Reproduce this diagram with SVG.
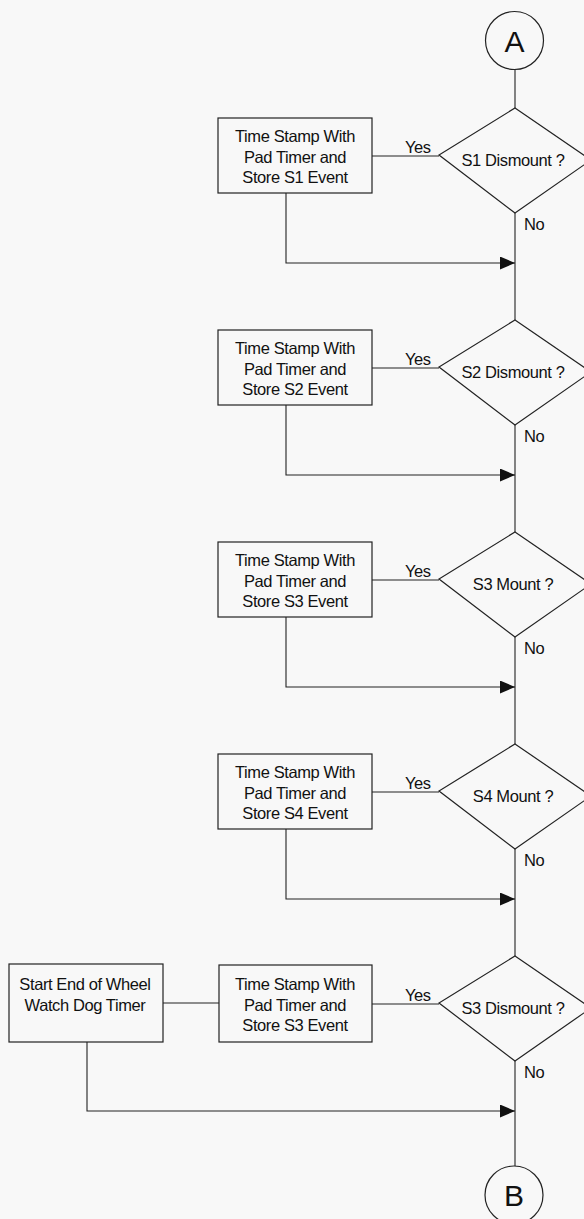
<svg xmlns="http://www.w3.org/2000/svg" width="584" height="1219" viewBox="0 0 584 1219">
<defs>
<style>
.bg{fill:#f8f8f8}
.shape{fill:none;stroke:#222;stroke-width:1.2}
.ln{fill:none;stroke:#222;stroke-width:1.1}
.t{font-family:"Liberation Sans",Arial,sans-serif;font-size:16.5px;fill:#111;letter-spacing:-0.4px}
.c{text-anchor:middle}
.big{font-family:"Liberation Sans",Arial,sans-serif;font-size:30px;fill:#111;text-anchor:middle}
</style>
<marker id="ah" markerWidth="15" markerHeight="13" refX="15" refY="6.5" orient="auto" markerUnits="userSpaceOnUse">
<path d="M0,0 L15,6.5 L0,13 Z" fill="#111"/>
</marker>
</defs>
<rect class="bg" x="0" y="0" width="584" height="1219"/>

<g id="connectors">
<line class="ln" x1="515" y1="69" x2="515" y2="108"/>
<line class="ln" x1="515" y1="213" x2="515" y2="320"/>
<line class="ln" x1="515" y1="425" x2="515" y2="532"/>
<line class="ln" x1="515" y1="637" x2="515" y2="744"/>
<line class="ln" x1="515" y1="849" x2="515" y2="956"/>
<line class="ln" x1="515" y1="1061" x2="515" y2="1166"/>
<line class="ln" x1="372" y1="156" x2="439" y2="156"/>
<line class="ln" x1="372" y1="368" x2="439" y2="368"/>
<line class="ln" x1="372" y1="580" x2="439" y2="580"/>
<line class="ln" x1="372" y1="792" x2="439" y2="792"/>
<line class="ln" x1="372" y1="1004" x2="439" y2="1004"/>
<line class="ln" x1="163" y1="1003" x2="219" y2="1003"/>
<polyline class="ln" points="286,193 286,263 515,263" marker-end="url(#ah)"/>
<polyline class="ln" points="286,405 286,475 515,475" marker-end="url(#ah)"/>
<polyline class="ln" points="286,617 286,687 515,687" marker-end="url(#ah)"/>
<polyline class="ln" points="286,829 286,899 515,899" marker-end="url(#ah)"/>
<polyline class="ln" points="87,1042 87,1111 515,1111" marker-end="url(#ah)"/>
<text class="t" x="405" y="153">Yes</text>
<text class="t" x="405" y="365">Yes</text>
<text class="t" x="405" y="577">Yes</text>
<text class="t" x="405" y="789">Yes</text>
<text class="t" x="405" y="1001">Yes</text>
<text class="t" x="524" y="230">No</text>
<text class="t" x="524" y="442">No</text>
<text class="t" x="524" y="654">No</text>
<text class="t" x="524" y="866">No</text>
<text class="t" x="524" y="1078">No</text>
</g>

<g id="startA">
<circle class="shape" cx="514.5" cy="40.5" r="29"/>
<text class="big" x="514.5" y="51.5">A</text>
</g>

<g id="d1">
<polygon class="shape" points="515,108 591,160 515,213 439,155"/>
<text class="t c" x="513" y="166">S1 Dismount ?</text>
</g>
<g id="b1">
<rect class="shape" x="218" y="118" width="154" height="75"/>
<text class="t c" x="295" y="142">Time Stamp With</text>
<text class="t c" x="295" y="163">Pad Timer and</text>
<text class="t c" x="295" y="183">Store S1 Event</text>
</g>

<g id="d2">
<polygon class="shape" points="515,320 591,372 515,425 439,367"/>
<text class="t c" x="513" y="378">S2 Dismount ?</text>
</g>
<g id="b2">
<rect class="shape" x="218" y="330" width="154" height="75"/>
<text class="t c" x="295" y="354">Time Stamp With</text>
<text class="t c" x="295" y="375">Pad Timer and</text>
<text class="t c" x="295" y="395">Store S2 Event</text>
</g>

<g id="d3">
<polygon class="shape" points="515,532 591,584 515,637 439,579"/>
<text class="t c" x="513" y="590">S3 Mount ?</text>
</g>
<g id="b3">
<rect class="shape" x="218" y="542" width="154" height="75"/>
<text class="t c" x="295" y="566">Time Stamp With</text>
<text class="t c" x="295" y="587">Pad Timer and</text>
<text class="t c" x="295" y="607">Store S3 Event</text>
</g>

<g id="d4">
<polygon class="shape" points="515,744 591,796 515,849 439,791"/>
<text class="t c" x="513" y="802">S4 Mount ?</text>
</g>
<g id="b4">
<rect class="shape" x="218" y="754" width="154" height="75"/>
<text class="t c" x="295" y="778">Time Stamp With</text>
<text class="t c" x="295" y="799">Pad Timer and</text>
<text class="t c" x="295" y="819">Store S4 Event</text>
</g>

<g id="d5">
<polygon class="shape" points="515,956 591,1008 515,1061 439,1003"/>
<text class="t c" x="513" y="1014">S3 Dismount ?</text>
</g>
<g id="b5">
<rect class="shape" x="219" y="965" width="153" height="77"/>
<text class="t c" x="295" y="990">Time Stamp With</text>
<text class="t c" x="295" y="1011">Pad Timer and</text>
<text class="t c" x="295" y="1031">Store S3 Event</text>
</g>
<g id="b6">
<rect class="shape" x="9" y="964" width="154" height="78"/>
<text class="t c" x="85" y="990">Start End of Wheel</text>
<text class="t c" x="85" y="1011">Watch Dog Timer</text>
</g>

<g id="endB">
<circle class="shape" cx="514" cy="1195" r="29"/>
<text class="big" x="514" y="1206">B</text>
</g>
</svg>
